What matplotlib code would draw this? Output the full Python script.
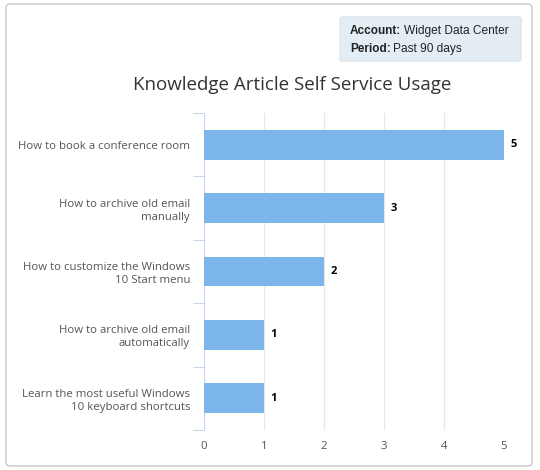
import matplotlib.pyplot as plt
from matplotlib.patches import FancyBboxPatch

# data
articles = [
    "How to book a conference room",
    "How to archive old email\nmanually",
    "How to customize the Windows\n10 Start menu",
    "How to archive old email\nautomatically",
    "Learn the most useful Windows\n10 keyboard shortcuts",
]
views = [5, 3, 2, 1, 1]
x_ticks = [0, 1, 2, 3, 4, 5]

plt.rcParams['font.family'] = ['Open Sans', 'DejaVu Sans']

fig = plt.figure(figsize=(5.4, 4.7), dpi=100)

# card with rounded border
card = FancyBboxPatch((6 / 540, 4 / 470), 526 / 540, 462 / 470,
                      boxstyle="round,pad=0,rounding_size=0.008",
                      transform=fig.transFigure, facecolor="white",
                      edgecolor="#c8c8c8", linewidth=1.0, zorder=-5)
fig.patches.append(card)

# info box
info = FancyBboxPatch((340 / 540, 409 / 470), 181 / 540, 44 / 470,
                      boxstyle="round,pad=0,rounding_size=0.004",
                      transform=fig.transFigure, facecolor="#e3edf3",
                      edgecolor="#d5e2ea", linewidth=0.8, zorder=-4)
fig.patches.append(info)
hv = ['Liberation Sans', 'DejaVu Sans']
fig.text(350 / 540, 439 / 470, "Account:", fontsize=8.5, fontweight="bold",
         color="#222222", va="center", ha="left", family=hv)
fig.text(404 / 540, 439 / 470, "Widget Data Center", fontsize=8.6,
         color="#222222", va="center", ha="left", family=hv)
fig.text(350 / 540, 421 / 470, "Period:", fontsize=8.5, fontweight="bold",
         color="#222222", va="center", ha="left", family=hv)
fig.text(393 / 540, 421 / 470, "Past 90 days", fontsize=8.6,
         color="#222222", va="center", ha="left", family=hv)

fig.text(292 / 540, 385 / 470, "Knowledge Article Self Service Usage",
         fontsize=13.5, color="#333333", ha="center", va="center")

ax = fig.add_axes([204 / 540, 40 / 470, 300 / 540, 317 / 470])
ax.patch.set_visible(False)
ypos = list(range(len(articles)))
bars = ax.barh(ypos, views, height=0.47, color="#7cb5ec", zorder=3)
ax.set_ylim(len(articles) - 0.5, -0.5)
ax.set_xlim(0, 5)
ax.set_xticks(x_ticks)
ax.set_xticklabels([str(t) for t in x_ticks])
ax.set_yticks(ypos)
ax.set_yticklabels(articles, ha="right", fontsize=8.2, color="#555555",
                   linespacing=1.25)
ax.set_yticks([i - 0.5 for i in range(len(articles) + 1)], minor=True)
ax.tick_params(axis="y", which="major", length=0, pad=10)
ax.tick_params(axis="y", which="minor", length=8, color="#ccd6eb", width=0.8)
ax.tick_params(axis="x", length=0, labelsize=8.2, labelcolor="#555555", pad=8)

ax.grid(axis="x", color="#e6e6e6", linewidth=0.8, zorder=0)
for s in ["top", "right", "bottom"]:
    ax.spines[s].set_visible(False)
ax.spines["left"].set_color("#ccd6eb")
ax.spines["left"].set_linewidth(0.8)

for y, v in zip(ypos, views):
    ax.annotate(str(v), (v, y), xytext=(4.5, 0), textcoords="offset points",
                fontsize=8, fontweight="bold", color="#000000",
                va="center", ha="left", annotation_clip=False)

fig.savefig("out.png", dpi=100)
